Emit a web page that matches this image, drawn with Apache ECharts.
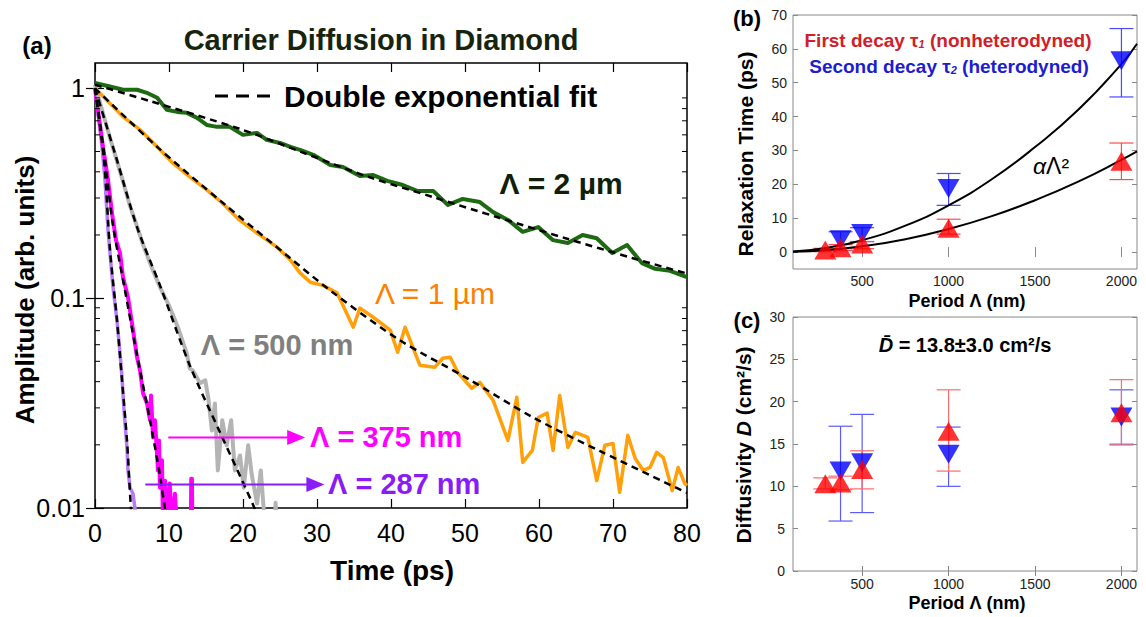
<!DOCTYPE html>
<html><head><meta charset="utf-8">
<script src="https://cdn.jsdelivr.net/npm/echarts@6/dist/echarts.min.js"></script>
<style>html,body{margin:0;padding:0;background:#fff}#c{width:1146px;height:617px}</style>
</head><body><div id="c"></div><script>
// ---------- Panel (a): decay traces (time in ps, amplitude arb. units) ----------
var greenT = [0,2.0,3.8,5.7,7.0,8.4,9.7,11.1,12.4,13.8,15.1,16.5,18.2,20.0,21.9,23.2,25.0,26.4,27.7,29.5,31.8,33.5,35.8,37.6,39.5,41.6,43.6,45.7,47.7,49.7,52.0,53.8,55.8,57.8,59.9,61.9,63.9,65.9,67.8,69.9,71.9,73.9,75.7,77.7,80];
var greenV = [1.06,1.02,0.984,0.984,0.952,0.901,0.790,0.772,0.764,0.723,0.669,0.655,0.655,0.600,0.613,0.568,0.549,0.526,0.509,0.482,0.431,0.422,0.382,0.386,0.362,0.346,0.324,0.324,0.278,0.297,0.287,0.257,0.236,0.207,0.218,0.189,0.183,0.200,0.193,0.164,0.179,0.147,0.138,0.135,0.126];
var greenFitT = [0,7.4,19.6,27.7,36.8,45.7,54.7,63.8,72.7,80];
var greenFitV = [1.04,0.87,0.64,0.50,0.38,0.303,0.241,0.192,0.155,0.131];

var orangeT = [0,3.8,6.1,8.4,10.5,12.8,15.1,17.2,19.5,21.9,24.6,26.4,27.7,29.1,30.8,32.7,33.8,34.9,35.8,37.6,39.9,40.9,41.9,43.9,45.9,47.0,48.0,49.1,50.9,52.0,53.8,55.8,57.0,57.8,59.1,59.9,61.1,61.9,62.8,63.9,64.9,66.6,67.8,68.9,70.0,70.9,72.0,73.0,74.1,75.0,75.9,76.8,78.0,78.8,79.7,80];
var orangeV = [1.0,0.731,0.634,0.526,0.441,0.378,0.328,0.284,0.236,0.204,0.175,0.152,0.132,0.119,0.115,0.106,0.0877,0.0727,0.0896,0.0811,0.0704,0.0552,0.0727,0.0479,0.0468,0.0517,0.0523,0.0439,0.0372,0.0397,0.0326,0.0210,0.0337,0.0165,0.0188,0.0270,0.0283,0.0188,0.0344,0.0194,0.0229,0.0217,0.0135,0.0199,0.0203,0.0119,0.0222,0.0172,0.0151,0.0156,0.0184,0.0174,0.0121,0.0156,0.0131,0.0128];
var orangeFitT = [0,8.4,17.3,26.4,32.2,41.2,50.3,59.2,68.2,80];
var orangeFitV = [1.0,0.526,0.284,0.155,0.106,0.063,0.0415,0.027,0.0187,0.0118];

var grayT = [0,1.08,2.03,2.97,3.78,4.73,5.68,6.49,7.70,8.78,10.1,11.2,12.4,12.8,13.2,14.2,14.9,15.3,15.8,16.2,16.6,17.2,17.8,18.4,18.9,19.6,20.1,20.7,21.2,21.9,22.4,23.0,23.6,24.2,24.4,24.8];
var grayV = [1.04,0.76,0.58,0.45,0.36,0.275,0.22,0.18,0.139,0.113,0.0906,0.0727,0.0546,0.0463,0.0453,0.0393,0.0406,0.0337,0.0234,0.0315,0.0151,0.0262,0.0199,0.0262,0.0151,0.0178,0.0125,0.0199,0.0143,0.0105,0.0151,0.008,0.006,0.006,0.0106,0.006];
var grayFitT = [0,2.84,5.68,8.78,12.8,16.9,21.6,22.5];
var grayFitV = [1.0,0.471,0.218,0.115,0.0479,0.0229,0.0099,0.008];

var magentaT = [0,1.08,1.76,2.3,2.84,3.38,3.78,4.46,5.14,5.68,6.08,6.49,7.03,7.43,7.57,7.84,8.1,8.38,8.51,8.65,8.78,9.05,9.19,9.46,9.73,10.1,10.4,10.8,11.1,12.95,13.0,13.1,13.15];
var magentaV = [1.0,0.526,0.366,0.254,0.189,0.164,0.126,0.101,0.0704,0.0523,0.0453,0.0352,0.0315,0.0262,0.0344,0.0217,0.0262,0.0182,0.0151,0.0210,0.0125,0.0169,0.008,0.0135,0.008,0.0131,0.008,0.0117,0.008,0.008,0.0138,0.0138,0.008];
var magentaFitT = [0,1.35,2.43,4.05,5.68,7.43,8.78,9.46,10];
var magentaFitV = [1.0,0.456,0.223,0.109,0.0534,0.0262,0.0143,0.0099,0.008];

var purpleT = [0,0.95,1.35,1.76,2.03,2.43,2.97,3.38,3.65,3.9,4.1,4.32,4.46,4.73,5.14,5.41,5.6];
var purpleV = [1.0,0.526,0.366,0.211,0.164,0.113,0.0785,0.0546,0.042,0.030,0.0242,0.0194,0.0151,0.0125,0.0117,0.0099,0.008];
var purpleFitT = [0,1.22,2.03,2.97,3.65,4.32,4.86,5.1];
var purpleFitV = [1.0,0.456,0.169,0.0785,0.0406,0.021,0.0099,0.008];

// annotation arrows: [start time, end time, amplitude]
var arrow375 = [9.9, 28.4, 0.0217];
var arrow287 = [6.8, 31.0, 0.01295];

var timeTicks = [0,10,20,30,40,50,60,70,80];
var ampTicks = [0.01,0.1,1];
var ampMinorTicks = [0.02,0.03,0.04,0.05,0.06,0.07,0.08,0.09,0.2,0.3,0.4,0.5,0.6,0.7,0.8,0.9];

// ---------- Panel (b): relaxation times (ps) vs period (nm) ----------
var periods1 = [287,375,500,1000,2000];
var tau1   = [0.6,1.3,2.4,7.0,26.8];
var tau1Lo = [0.1,0.4,1.0,5.3,21.4];
var tau1Hi = [1.1,2.2,3.1,9.7,32.2];
var periods2 = [375,500,1000,2000];
var tau2   = [3.6,5.5,18.8,56.5];
var tau2Lo = [0.5,3.1,13.8,45.8];
var tau2Hi = [6.0,7.2,23.2,66.0];
var fitX      = [100,300,500,750,1000,1250,1500,1750,2000,2090];
var fitUpperY = [0.15,1.3,3.5,7.8,13.8,21.5,31,42,55.5,61.5];
var fitLowerY = [0.07,0.6,1.7,3.8,6.8,10.6,15.3,20.8,27.2,29.7];
var periodTicks = [500,1000,1500,2000];
var relaxTicks = [0,10,20,30,40,50,60,70];

// ---------- Panel (c): diffusivity (cm^2/s) vs period (nm) ----------
var diff1   = [10.3,10.4,12.0,16.5,18.7];
var diff1Lo = [9.7,9.6,9.7,11.8,15.0];
var diff1Hi = [11.0,11.2,14.2,21.4,22.6];
var diff2   = [11.8,12.8,13.8,18.2];
var diff2Lo = [5.9,6.9,10.0,14.9];
var diff2Hi = [17.1,18.5,17.0,21.4];

var FONT = '"Liberation Sans", Arial, sans-serif';
function pairs(a, b){ return a.map(function(v,i){ return [v, b[i]]; }); }
function plain(v){ return String(v); }

function errorBars(xi, yi, xs, lo, hi, color){
  return {type:'custom', xAxisIndex:xi, yAxisIndex:yi, silent:true, z:3,
    data: xs.map(function(x,i){ return [x, lo[i], hi[i]]; }),
    encode:{x:0, y:[1,2]},
    renderItem:function(params, api){
      var x = api.value(0);
      var a = api.coord([x, api.value(1)]), b = api.coord([x, api.value(2)]);
      var w = 12, st = {stroke:color, lineWidth:1.2};
      return {type:'group', children:[
        {type:'line', shape:{x1:a[0],y1:a[1],x2:b[0],y2:b[1]}, style:st},
        {type:'line', shape:{x1:a[0]-w,y1:a[1],x2:a[0]+w,y2:a[1]}, style:st},
        {type:'line', shape:{x1:b[0]-w,y1:b[1],x2:b[0]+w,y2:b[1]}, style:st}
      ]};
    }};
}
function arrowSeries(arr, color){
  return {type:'custom', xAxisIndex:0, yAxisIndex:0, silent:true, z:7, clip:false,
    data:[[arr[0], arr[2], arr[1]]],
    renderItem:function(params, api){
      var y = api.value(1);
      var p1 = api.coord([api.value(0), y]), p2 = api.coord([api.value(2), y]);
      var hl = 18, hh = 7.5;
      return {type:'group', children:[
        {type:'line', shape:{x1:p1[0], y1:p1[1], x2:p2[0]-hl+2, y2:p2[1]}, style:{stroke:color, lineWidth:2}},
        {type:'polygon', shape:{points:[[p2[0],p2[1]],[p2[0]-hl,p2[1]-hh],[p2[0]-hl,p2[1]+hh]]}, style:{fill:color}}
      ]};
    }};
}
function dataLine(t, v, color, w){
  return {type:'line', xAxisIndex:0, yAxisIndex:0, data:pairs(t,v), showSymbol:false, symbol:'none',
    lineStyle:{color:color, width:w, join:'round'}, z:2, silent:true};
}
function fitLine(t, v){
  return {type:'line', xAxisIndex:0, yAxisIndex:0, data:pairs(t,v), showSymbol:false, symbol:'none', smooth:0.3,
    lineStyle:{color:'#000', width:2.5, type:[7,5]}, z:5, silent:true};
}

var tickA = {inside:true, length:9, lineStyle:{color:'#000', width:1.2}};
var tickB = {inside:true, length:5, lineStyle:{color:'#888', width:1}};
var labB = {fontSize:14, color:'#222', fontFamily:FONT, formatter:plain};

var option = {
  animation:false,
  backgroundColor:'#fff',
  grid:[
    {left:95, top:63, width:592, height:445, show:true, borderColor:'#000', borderWidth:1.5, backgroundColor:'transparent'},
    {left:793, top:15, width:344, height:254, show:true, borderColor:'#888', borderWidth:1, backgroundColor:'transparent'},
    {left:793, top:317, width:344, height:254, show:true, borderColor:'#888', borderWidth:1, backgroundColor:'transparent'}
  ],
  xAxis:[
    {gridIndex:0, type:'value', min:0, max:80, interval:10, position:'bottom', axisLine:{show:false}, splitLine:{show:false},
      axisTick:tickA, axisLabel:{fontSize:25, color:'#000', fontFamily:FONT, margin:12, customValues:timeTicks}},
    {gridIndex:0, type:'value', min:0, max:80, interval:10, position:'top', axisLine:{show:false}, splitLine:{show:false},
      axisTick:tickA, axisLabel:{show:false}},
    {gridIndex:1, type:'value', min:100, max:2090, position:'bottom', axisLine:{show:false}, splitLine:{show:false},
      axisTick:Object.assign({customValues:periodTicks}, tickB), axisLabel:Object.assign({margin:5, customValues:periodTicks}, labB)},
    {gridIndex:1, type:'value', min:100, max:2090, position:'top', axisLine:{show:false}, splitLine:{show:false},
      axisTick:Object.assign({customValues:periodTicks}, tickB), axisLabel:{show:false}},
    {gridIndex:2, type:'value', min:100, max:2090, position:'bottom', axisLine:{show:false}, splitLine:{show:false},
      axisTick:Object.assign({customValues:periodTicks}, tickB), axisLabel:Object.assign({margin:6, customValues:periodTicks}, labB)},
    {gridIndex:2, type:'value', min:100, max:2090, position:'top', axisLine:{show:false}, splitLine:{show:false},
      axisTick:Object.assign({customValues:periodTicks}, tickB), axisLabel:{show:false}}
  ],
  yAxis:[
    {gridIndex:0, type:'log', min:0.01, max:1.32, position:'left', axisLine:{show:false}, splitLine:{show:false},
      axisTick:Object.assign({customValues:ampTicks}, tickA),
      axisLabel:{fontSize:25, color:'#000', fontFamily:FONT, margin:10, customValues:ampTicks,
        formatter:function(v){ return v >= 1 ? '1' : (v >= 0.1 ? '0.1' : '0.01'); }}},
    {gridIndex:0, type:'log', min:0.01, max:1.32, position:'right', axisLine:{show:false}, splitLine:{show:false},
      axisTick:Object.assign({customValues:ampTicks}, tickA), axisLabel:{show:false}},
    {gridIndex:1, type:'value', min:-5, max:70, position:'left', axisLine:{show:false}, splitLine:{show:false},
      axisTick:Object.assign({customValues:relaxTicks}, tickB), axisLabel:Object.assign({margin:6, customValues:relaxTicks}, labB)},
    {gridIndex:1, type:'value', min:-5, max:70, position:'right', axisLine:{show:false}, splitLine:{show:false},
      axisTick:Object.assign({customValues:relaxTicks}, tickB), axisLabel:{show:false}},
    {gridIndex:2, type:'value', min:0, max:30, interval:5, position:'left', axisLine:{show:false}, splitLine:{show:false},
      axisTick:tickB, axisLabel:Object.assign({margin:8}, labB)},
    {gridIndex:2, type:'value', min:0, max:30, interval:5, position:'right', axisLine:{show:false}, splitLine:{show:false},
      axisTick:tickB, axisLabel:{show:false}}
  ],
  series:[
    {type:'custom', xAxisIndex:0, yAxisIndex:0, silent:true, z:6,
      data: ampMinorTicks.map(function(v){ return [0, v]; }),
      renderItem:function(params, api){
        var v = api.value(1);
        var pl = api.coord([0, v]), pr = api.coord([80, v]);
        var st = {stroke:'#000', lineWidth:1};
        return {type:'group', children:[
          {type:'line', shape:{x1:pl[0], y1:pl[1], x2:pl[0]+5, y2:pl[1]}, style:st},
          {type:'line', shape:{x1:pr[0]-5, y1:pr[1], x2:pr[0], y2:pr[1]}, style:st}
        ]};
      }},
    dataLine(purpleT, purpleV, '#b67cf2', 3.5),
    dataLine(magentaT, magentaV, '#ff00ff', 4),
    dataLine(grayT, grayV, '#b4b4b4', 4),
    dataLine(orangeT, orangeV, '#ffa00a', 3.5),
    dataLine(greenT, greenV, '#1d6a12', 4),
    fitLine(purpleFitT, purpleFitV),
    fitLine(magentaFitT, magentaFitV),
    fitLine(grayFitT, grayFitV),
    fitLine(orangeFitT, orangeFitV),
    fitLine(greenFitT, greenFitV),
    arrowSeries(arrow375, '#ff00ff'),
    arrowSeries(arrow287, '#8a1cf5'),

    // panel (b)
    {type:'line', xAxisIndex:2, yAxisIndex:2, data:pairs(fitX, fitUpperY), smooth:true, showSymbol:false, symbol:'none', lineStyle:{color:'#000', width:2}, silent:true},
    {type:'line', xAxisIndex:2, yAxisIndex:2, data:pairs(fitX, fitLowerY), smooth:true, showSymbol:false, symbol:'none', lineStyle:{color:'#000', width:2}, silent:true},
    errorBars(2, 2, periods2, tau2Lo, tau2Hi, '#4a4aff'),
    {type:'scatter', xAxisIndex:2, yAxisIndex:2, data:pairs(periods2, tau2), symbol:'triangle', symbolRotate:180, symbolSize:[22,19], itemStyle:{color:'#0000ff'}, z:4, silent:true},
    errorBars(2, 2, periods1, tau1Lo, tau1Hi, '#ff4a4a'),
    {type:'scatter', xAxisIndex:2, yAxisIndex:2, data:pairs(periods1, tau1), symbol:'triangle', symbolSize:[22,19], itemStyle:{color:'#ff0000'}, z:5, silent:true},

    // panel (c)
    errorBars(4, 4, periods2, diff2Lo, diff2Hi, '#5a5aff'),
    errorBars(4, 4, periods1, diff1Lo, diff1Hi, '#ff6a6a'),
    {type:'scatter', xAxisIndex:4, yAxisIndex:4, data:pairs(periods2, diff2), symbol:'triangle', symbolRotate:180, symbolSize:[22,19], itemStyle:{color:'#0000ff'}, z:4, silent:true},
    {type:'scatter', xAxisIndex:4, yAxisIndex:4, data:pairs(periods1, diff1), symbol:'triangle', symbolSize:[22,19], itemStyle:{color:'#ff0000'}, z:5, silent:true}
  ],
  graphic:[
    {type:'text', x:37, y:45, style:{text:'(a)', font:'bold 24px '+FONT, fill:'#000', textAlign:'center', textVerticalAlign:'middle'}},
    {type:'text', x:381, y:40, style:{text:'Carrier Diffusion in Diamond', font:'bold 29px '+FONT, fill:'#16240c', textAlign:'center', textVerticalAlign:'middle'}},
    {type:'line', shape:{x1:215, y1:96, x2:273, y2:96}, style:{stroke:'#000', lineWidth:3, lineDash:[13,8]}},
    {type:'text', x:284, y:96, style:{text:'Double exponential fit', font:'bold 30px '+FONT, fill:'#000', textAlign:'left', textVerticalAlign:'middle'}},
    {type:'text', x:561, y:183, style:{text:'Λ = 2 µm', font:'bold 30px '+FONT, fill:'#0f1f0a', textAlign:'center', textVerticalAlign:'middle'}},
    {type:'text', x:435, y:293, style:{text:'Λ = 1 µm', font:'30px '+FONT, fill:'#ff7f00', textAlign:'center', textVerticalAlign:'middle'}},
    {type:'text', x:277, y:345, style:{text:'Λ = 500 nm', font:'bold 29px '+FONT, fill:'#7f7f7f', textAlign:'center', textVerticalAlign:'middle'}},
    {type:'text', x:310, y:437, style:{text:'Λ = 375 nm', font:'bold 29px '+FONT, fill:'#ff00ff', textAlign:'left', textVerticalAlign:'middle'}},
    {type:'text', x:328, y:484, style:{text:'Λ = 287 nm', font:'bold 29px '+FONT, fill:'#8a1cf5', textAlign:'left', textVerticalAlign:'middle'}},
    {type:'text', x:392, y:570, style:{text:'Time (ps)', font:'bold 28px '+FONT, fill:'#000', textAlign:'center', textVerticalAlign:'middle'}},
    {type:'text', x:25, y:290, rotation:Math.PI/2, style:{text:'Amplitude (arb. units)', font:'bold 26px '+FONT, fill:'#000', textAlign:'center', textVerticalAlign:'middle'}},

    {type:'text', x:747, y:18, style:{text:'(b)', font:'bold 22px '+FONT, fill:'#000', textAlign:'center', textVerticalAlign:'middle'}},
    {type:'text', x:948, y:40, style:{text:'{a|First decay τ}{s|1}{a| (nonheterodyned)}', textAlign:'center', textVerticalAlign:'middle',
      rich:{a:{font:'bold 19px '+FONT, fill:'#d0202a', color:'#d0202a'}, s:{font:'italic bold 11px '+FONT, fill:'#d0202a', color:'#d0202a', verticalAlign:'bottom', padding:[8,0,0,0]}}}},
    {type:'text', x:949, y:66, style:{text:'{a|Second decay τ}{s|2}{a| (heterodyned)}', textAlign:'center', textVerticalAlign:'middle',
      rich:{a:{font:'bold 19px '+FONT, fill:'#1c1cd0', color:'#1c1cd0'}, s:{font:'italic bold 11px '+FONT, fill:'#1c1cd0', color:'#1c1cd0', verticalAlign:'bottom', padding:[8,0,0,0]}}}},
    {type:'text', x:1051, y:166, style:{text:'{i|α}{n|Λ²}', textAlign:'center', textVerticalAlign:'middle',
      rich:{i:{font:'italic 23px '+FONT, fill:'#000', color:'#000'}, n:{font:'23px '+FONT, fill:'#000', color:'#000'}}}},
    {type:'text', x:745, y:154, rotation:Math.PI/2, style:{text:'Relaxation Time (ps)', font:'bold 21px '+FONT, fill:'#000', textAlign:'center', textVerticalAlign:'middle'}},
    {type:'text', x:967, y:301, style:{text:'Period Λ (nm)', font:'bold 18px '+FONT, fill:'#000', textAlign:'center', textVerticalAlign:'middle'}},

    {type:'text', x:747, y:320, style:{text:'(c)', font:'bold 22px '+FONT, fill:'#000', textAlign:'center', textVerticalAlign:'middle'}},
    {type:'text', x:965, y:345, style:{text:'{i|D̄}{a| = 13.8±3.0 cm²/s}', textAlign:'center', textVerticalAlign:'middle',
      rich:{i:{font:'italic bold 20px '+FONT, fill:'#000', color:'#000'}, a:{font:'bold 20px '+FONT, fill:'#000', color:'#000'}}}},
    {type:'text', x:743, y:445, rotation:Math.PI/2, style:{text:'{a|Diffusivity }{i|D}{a| (cm²/s)}', textAlign:'center', textVerticalAlign:'middle',
      rich:{a:{font:'bold 21px '+FONT, fill:'#000', color:'#000'}, i:{font:'italic bold 21px '+FONT, fill:'#000', color:'#000'}}}},
    {type:'text', x:967, y:603, style:{text:'Period Λ (nm)', font:'bold 18px '+FONT, fill:'#000', textAlign:'center', textVerticalAlign:'middle'}}
  ]
};
var chart = echarts.init(document.getElementById('c'), null, {renderer:'svg'});
chart.setOption(option);
</script></body></html>
